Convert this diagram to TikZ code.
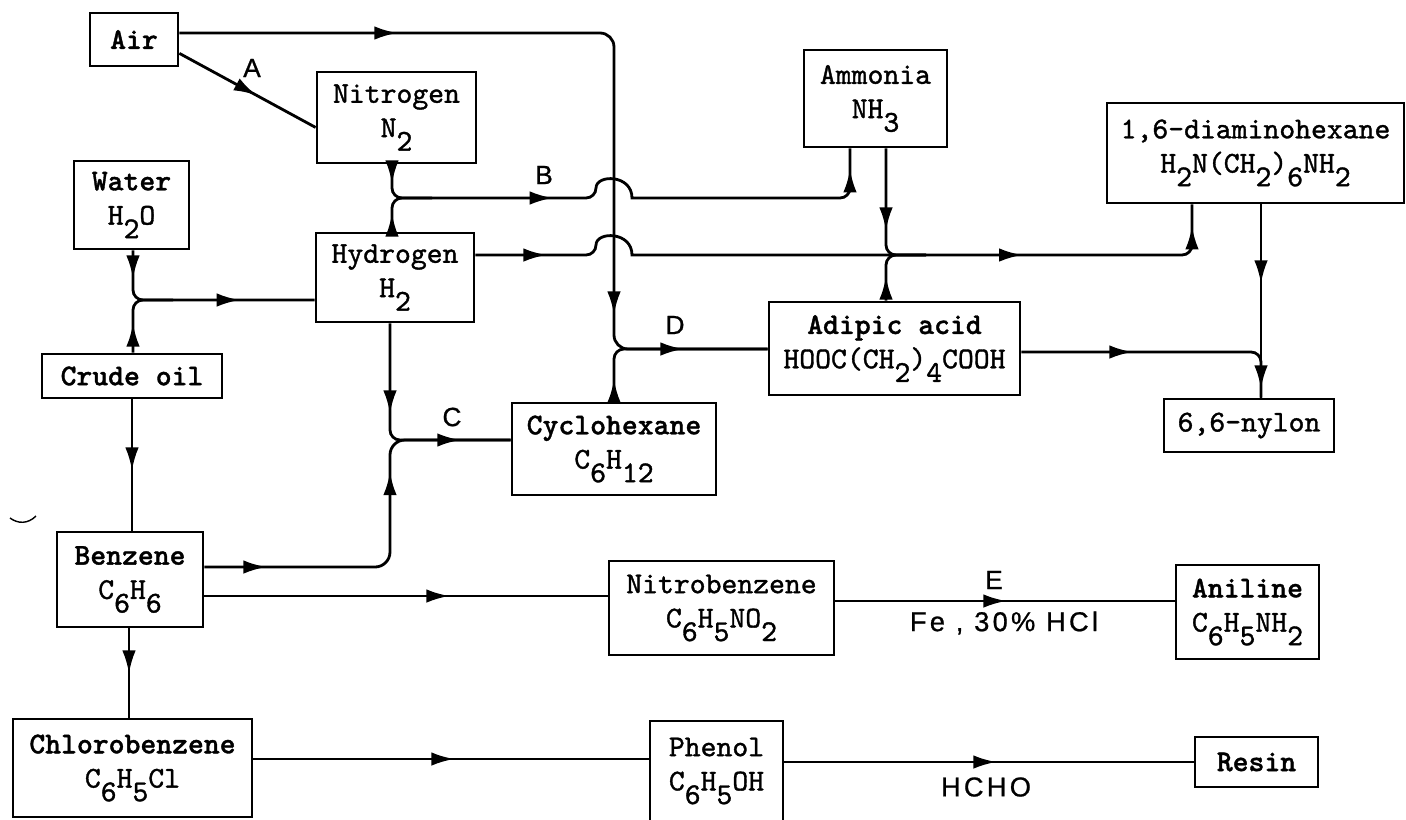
\documentclass[tikz,border=0pt]{standalone}
\usepackage{fontspec}
\newfontfamily\labfont{Liberation Sans}
\newfontfamily\boxfont{lmmono10-regular.otf}[BoldFont=lmmonolt10-bold.otf, FakeBold=1.2]
\usetikzlibrary{arrows.meta,decorations.markings,calc}
\newcommand\dn[1]{\raisebox{-0.45em}{#1}}
\tikzset{
  box/.style={draw, line width=1.6pt, align=center, inner sep=1pt,
    font=\fontsize{17.2}{19.5}\selectfont\boxfont},
  flow/.style={line width=1.6pt, rounded corners=0.2cm},
  tipat/.style={postaction={decorate, decoration={markings,
    mark=at position #1*0.02cm with {\arrow{Latex[length=0.46cm,width=0.27cm]}}}}},
  hop/.style={out=90, in=90, looseness=1.7},
  lab/.style={font=\fontsize{15}{15}\selectfont\labfont\addfontfeature{FakeBold=0.8}},
  cond/.style={font=\fontsize{15.5}{15.5}\selectfont\labfont\addfontfeature{LetterSpace=12,FakeBold=0.8}},
}
\begin{document}
\begin{tikzpicture}[x=0.02cm, y=-0.02cm]
\useasboundingbox (0,0) rectangle (1406,819);
\node[box, minimum width=1.76cm, minimum height=1.06cm] (air) at (134,39.5) {\textbf{Air}};
\node[box, minimum width=3.18cm, minimum height=1.82cm] (nitrogen) at (396.5,117.5) {Nitrogen\\N\dn{2}};
\node[box, minimum width=2.86cm, minimum height=1.94cm] (ammonia) at (875.5,98.5) {Ammonia\\NH\dn{3}};
\node[box, minimum width=5.94cm, minimum height=2.0cm] (diamine) at (1255.5,153) {1,6-diaminohexane\\H\dn{2}N(CH\dn{2})\dn{6}NH\dn{2}};
\node[box, minimum width=2.3cm, minimum height=1.76cm] (water) at (131.5,205) {\textbf{Water}\\H\dn{2}O};
\node[box, minimum width=3.16cm, minimum height=1.78cm] (hydrogen) at (395,277.5) {Hydrogen\\H\dn{2}};
\node[box, minimum width=3.6cm, minimum height=0.88cm] (crude) at (132,376) {\textbf{Crude oil}};
\node[box, minimum width=5.02cm, minimum height=1.86cm] (adipic) at (894.5,348.5) {\textbf{Adipic acid}\\HOOC(CH\dn{2})\dn{4}COOH};
\node[box, minimum width=4.08cm, minimum height=1.84cm] (cyclo) at (614,449) {\textbf{Cyclohexane}\\C\dn{6}H\dn{12}};
\node[box, minimum width=3.4cm, minimum height=1.06cm] (nylon) at (1249,425.5) {6,6-nylon};
\node[box, minimum width=2.92cm, minimum height=1.9cm] (benzene) at (130,579.5) {\textbf{Benzene}\\C\dn{6}H\dn{6}};
\node[box, minimum width=4.5cm, minimum height=1.88cm] (nitro) at (721.5,608) {Nitrobenzene\\C\dn{6}H\dn{5}NO\dn{2}};
\node[box, minimum width=2.86cm, minimum height=1.88cm] (aniline) at (1247.5,612) {\textbf{Aniline}\\C\dn{6}H\dn{5}NH\dn{2}};
\node[box, minimum width=4.78cm, minimum height=1.96cm] (chloro) at (132.5,768) {\textbf{Chlorobenzene}\\C\dn{6}H\dn{5}Cl};
\node[box, minimum width=2.66cm, minimum height=2.0cm] (phenol) at (716.5,771) {Phenol\\C\dn{6}H\dn{5}OH};
\node[box, minimum width=2.46cm, minimum height=1.0cm] (resin) at (1256.5,762) {\textbf{Resin}};

\coordinate (ac) at (614,33);
\coordinate (dj) at (614,349);
\coordinate (bj) at (392,198);
\coordinate (bx) at (850,198);
\coordinate (aj) at (886,255);
\coordinate (dx) at (1192,255);
\coordinate (wj) at (133,300);
\coordinate (cj) at (390,440);
\coordinate (bc) at (390,567);
\coordinate (nj) at (1261,352);
\coordinate (nb) at (400,596);
\coordinate (ne) at (900,601);
\coordinate (bz) at (129,680);
\coordinate (cp) at (450,759);
\coordinate (pr) at (900,762);

\draw[flow, tipat=88] (air.-17) -- (nitrogen.-173);
\draw[flow, rounded corners=0.28cm, tipat=218, tipat=710, tipat=808] (ac -| air.east) -- (ac) -- (dj) -- (dj -| adipic.west);
\draw[flow, tipat=22] (dj |- cyclo.north) -- (dj) -- (dj -| adipic.west);
\draw[flow, tipat=19, tipat=190, tipat=-21] (bj |- nitrogen.south) -- (bj) -- ($(ac |- bj)+(-18,0)$) [sharp corners] to[hop] ++(36,0) [rounded corners=0.2cm] -| (bx |- ammonia.south);
\draw[flow, tipat=18] (bj |- hydrogen.north) -- (bj) -- ++(40,0);
\draw[flow, tipat=71, tipat=568, tipat=-22] (aj -| hydrogen.east) -- ($(ac |- aj)+(-18,0)$) [sharp corners] to[hop] ++(36,0) [rounded corners=0.2cm] -| (dx |- diamine.south);
\draw[flow, tipat=82] (aj |- ammonia.south) -- (aj) -- ++(40,0);
\draw[flow, tipat=24] (aj |- adipic.north) -- (aj) -- ++(40,0);
\draw[flow, tipat=28, tipat=152] (wj |- water.south) -- (wj) -- (wj -| hydrogen.west);
\draw[flow, tipat=29] (wj |- crude.north) -- (wj) -- ++(40,0);
\draw[flow, tipat=71] (crude.south) -- (crude.south |- benzene.north);
\draw[flow, tipat=90] (cj |- hydrogen.south) -- (cj) -- (cj -| cyclo.west);
\draw[flow, rounded corners=0.3cm, tipat=62, tipat=274, tipat=370] (bc -| benzene.east) -- (bc) -- (cj) -- (cj -| cyclo.west);
\draw[flow, tipat=79, tipat=184] (nj |- diamine.south) -- (nj |- nylon.north);
\draw[flow, tipat=111] (nj -| adipic.east) -- (nj) -- (nj |- nylon.north);
\draw[flow, tipat=245] (nb -| benzene.east) -- (nb -| nitro.west);
\draw[flow, tipat=171] (ne -| nitro.east) -- (ne -| aniline.west);
\draw[flow, tipat=45] (bz |- benzene.south) -- (bz |- chloro.north);
\draw[flow, tipat=201] (cp -| chloro.east) -- (cp -| phenol.west);
\draw[flow, tipat=212] (pr -| phenol.east) -- (pr -| resin.west);
\draw[line width=0.8pt] (10,518) .. controls (18,524) and (28,524) .. (36,516);

\node[lab] (labA) at (252,68) {A};
\node[lab] (labB) at (544,175) {B};
\node[lab] (labC) at (452,417) {C};
\node[lab] (labD) at (675,325) {D};
\node[lab] (labE) at (994,580) {E};
\node[cond] (fe) at (1004,623) {Fe , 30\% HCl};
\node[cond] (hcho) at (986,787) {HCHO};
\end{tikzpicture}
\end{document}
